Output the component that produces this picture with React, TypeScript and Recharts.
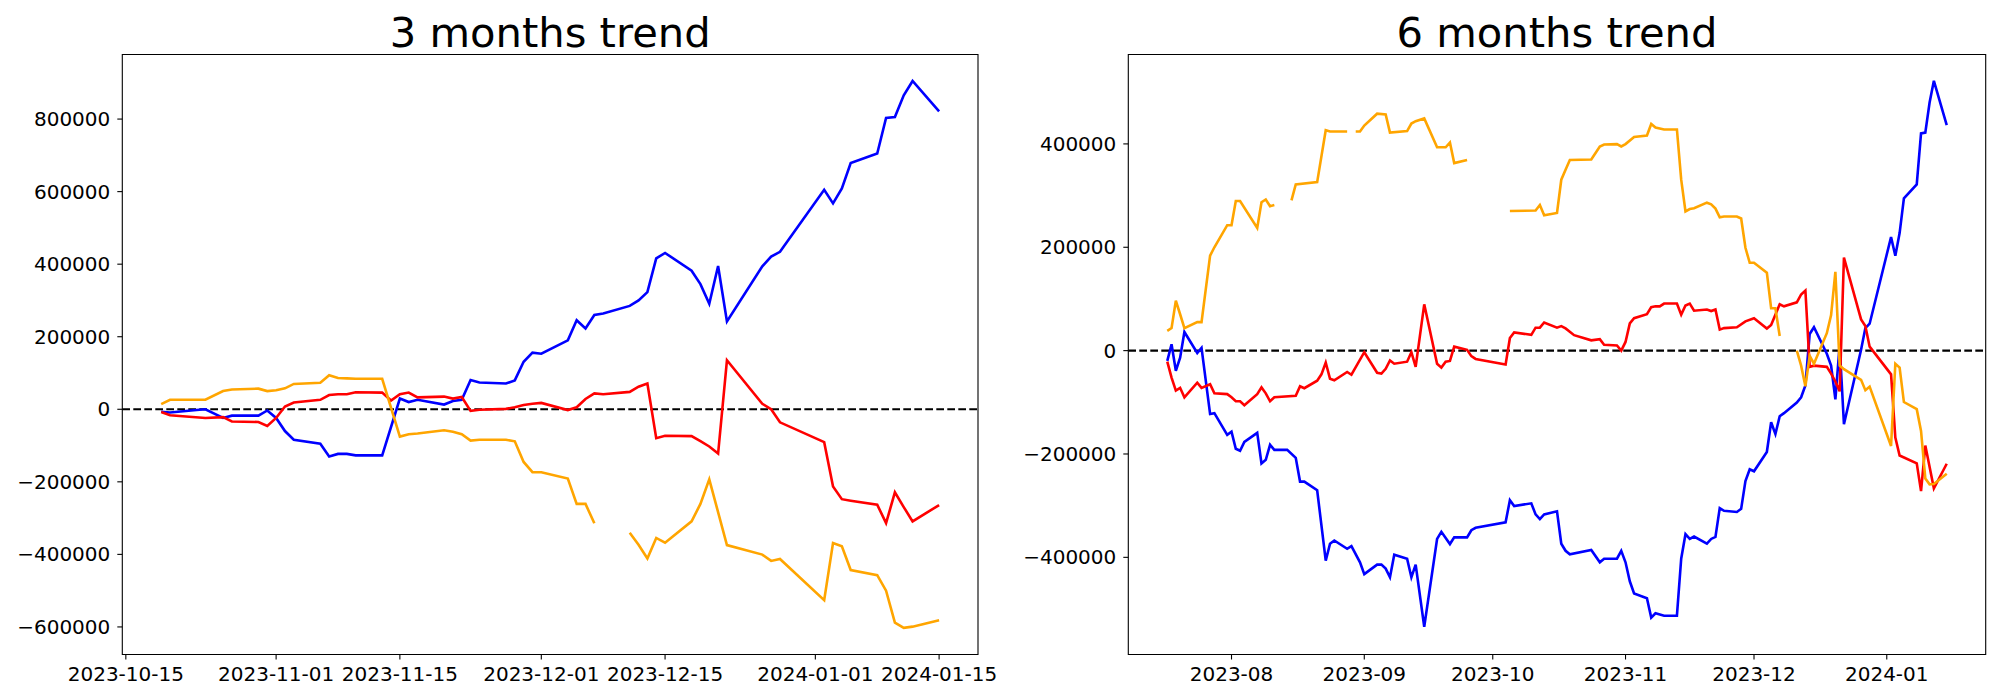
import React from "react";
import { LineChart, Line, XAxis, YAxis, ReferenceLine, ReferenceArea } from "recharts";

type Pt = [string, number | null];

// ---------- 3 months ----------
const blue3: Pt[] = [
  ["2023-10-19", -7000], ["2023-10-20", -8700], ["2023-10-23", -2000], ["2023-10-24", 0],
  ["2023-10-26", -24000], ["2023-10-27", -17500], ["2023-10-30", -17500], ["2023-10-31", -3300],
  ["2023-11-01", -24000], ["2023-11-02", -60000], ["2023-11-03", -84000], ["2023-11-06", -95000],
  ["2023-11-07", -130000], ["2023-11-08", -123000], ["2023-11-09", -123000], ["2023-11-10", -127000],
  ["2023-11-13", -127000], ["2023-11-15", 29500], ["2023-11-16", 20000], ["2023-11-17", 26000],
  ["2023-11-20", 13000], ["2023-11-21", 23000], ["2023-11-22", 26000], ["2023-11-23", 80800],
  ["2023-11-24", 74000], ["2023-11-27", 71000], ["2023-11-28", 79700], ["2023-11-29", 131000],
  ["2023-11-30", 156000], ["2023-12-01", 153000], ["2023-12-04", 190000], ["2023-12-05", 245600],
  ["2023-12-06", 222700], ["2023-12-07", 259800], ["2023-12-08", 264000], ["2023-12-11", 285000],
  ["2023-12-12", 300000], ["2023-12-13", 323000], ["2023-12-14", 416000], ["2023-12-15", 431000],
  ["2023-12-18", 382000], ["2023-12-19", 345000], ["2023-12-20", 291000], ["2023-12-21", 395000],
  ["2023-12-22", 242000], ["2023-12-26", 394000], ["2023-12-27", 421000], ["2023-12-28", 434000],
  ["2024-01-02", 605000], ["2024-01-03", 567600], ["2024-01-04", 609000], ["2024-01-05", 679000],
  ["2024-01-08", 705000], ["2024-01-09", 803000], ["2024-01-10", 805500], ["2024-01-11", 865600],
  ["2024-01-12", 905000], ["2024-01-15", 821000],
];
const red3: Pt[] = [
  ["2023-10-19", -7600], ["2023-10-20", -16400], ["2023-10-24", -24000], ["2023-10-26", -21800],
  ["2023-10-27", -33800], ["2023-10-30", -35000], ["2023-10-31", -45800], ["2023-11-01", -24000],
  ["2023-11-02", 7600], ["2023-11-03", 18600], ["2023-11-06", 26000], ["2023-11-07", 39300],
  ["2023-11-08", 41500], ["2023-11-09", 41500], ["2023-11-10", 47000], ["2023-11-13", 46000],
  ["2023-11-14", 24000], ["2023-11-15", 41500], ["2023-11-16", 46000], ["2023-11-17", 32700],
  ["2023-11-20", 35000], ["2023-11-21", 29500], ["2023-11-22", 33800], ["2023-11-23", -4400],
  ["2023-11-24", -1100], ["2023-11-27", 1100], ["2023-11-28", 5500], ["2023-11-29", 12000],
  ["2023-11-30", 15300], ["2023-12-01", 17500], ["2023-12-04", -2200], ["2023-12-05", 5500],
  ["2023-12-06", 28400], ["2023-12-07", 43700], ["2023-12-08", 41500], ["2023-12-11", 48000],
  ["2023-12-12", 62200], ["2023-12-13", 71000], ["2023-12-14", -79700], ["2023-12-15", -73000],
  ["2023-12-18", -74000], ["2023-12-19", -88000], ["2023-12-20", -102600], ["2023-12-21", -122000],
  ["2023-12-22", 135000], ["2023-12-26", 15300], ["2023-12-27", 0], ["2023-12-28", -36000],
  ["2024-01-02", -90600], ["2024-01-03", -212800], ["2024-01-04", -247800], ["2024-01-05", -252000],
  ["2024-01-08", -263000], ["2024-01-09", -314000], ["2024-01-10", -229000], ["2024-01-11", -269600],
  ["2024-01-12", -309000], ["2024-01-15", -264000],
];
const orange3: Pt[] = [
  ["2023-10-19", 14200], ["2023-10-20", 26200], ["2023-10-24", 26200], ["2023-10-26", 50200],
  ["2023-10-27", 54600], ["2023-10-30", 56800], ["2023-10-31", 50200], ["2023-11-01", 52400],
  ["2023-11-02", 57800], ["2023-11-03", 69900], ["2023-11-06", 73100], ["2023-11-07", 93900],
  ["2023-11-08", 86200], ["2023-11-09", 85100], ["2023-11-10", 84000], ["2023-11-13", 84000],
  ["2023-11-15", -75300], ["2023-11-16", -68800], ["2023-11-17", -66600], ["2023-11-20", -57800],
  ["2023-11-21", -62200], ["2023-11-22", -68800], ["2023-11-23", -86200], ["2023-11-24", -84000],
  ["2023-11-27", -84000], ["2023-11-28", -88400], ["2023-11-29", -145200], ["2023-11-30", -173500],
  ["2023-12-01", -173500], ["2023-12-04", -191000], ["2023-12-05", -260900], ["2023-12-06", -260900],
  ["2023-12-07", -314300], ["2023-12-08", null], ["2023-12-11", -340500], ["2023-12-12", -373300],
  ["2023-12-13", -411500], ["2023-12-14", -354700], ["2023-12-15", -367800], ["2023-12-18", -308900],
  ["2023-12-19", -261000], ["2023-12-20", -193200], ["2023-12-22", -374400], ["2023-12-26", -400600],
  ["2023-12-27", -418000], ["2023-12-28", -412600], ["2024-01-02", -526000], ["2024-01-03", -368900],
  ["2024-01-04", -377700], ["2024-01-05", -443100], ["2024-01-08", -457300], ["2024-01-09", -500000],
  ["2024-01-10", -588300], ["2024-01-11", -602500], ["2024-01-12", -599200], ["2024-01-15", -581800],
];

// ---------- 6 months ----------
const blue6: Pt[] = [
  ["2023-07-17", -19900], ["2023-07-18", 12200], ["2023-07-19", -39000], ["2023-07-20", -13800],
  ["2023-07-21", 36000], ["2023-07-24", -4600], ["2023-07-25", 5400], ["2023-07-27", -122500],
  ["2023-07-28", -121000], ["2023-07-31", -163000], ["2023-08-01", -157000], ["2023-08-02", -189800],
  ["2023-08-03", -193700], ["2023-08-04", -176800], ["2023-08-07", -159200], ["2023-08-08", -218200],
  ["2023-08-09", -211300], ["2023-08-10", -182200], ["2023-08-11", -192100], ["2023-08-14", -192100],
  ["2023-08-16", -207500], ["2023-08-17", -253400], ["2023-08-18", -253400], ["2023-08-21", -270200],
  ["2023-08-23", -406500], ["2023-08-24", -373600], ["2023-08-25", -367400], ["2023-08-28", -383500],
  ["2023-08-29", -378200], ["2023-08-31", -409600], ["2023-09-01", -432500], ["2023-09-04", -414100],
  ["2023-09-05", -414100], ["2023-09-06", -421800], ["2023-09-07", -438600], ["2023-09-08", -395000],
  ["2023-09-11", -402600], ["2023-09-12", -438600], ["2023-09-13", -414100], ["2023-09-15", -534300],
  ["2023-09-18", -364400], ["2023-09-19", -350600], ["2023-09-21", -374300], ["2023-09-22", -361300],
  ["2023-09-25", -361300], ["2023-09-26", -347500], ["2023-09-27", -342900], ["2023-10-04", -332200],
  ["2023-10-05", -289400], ["2023-10-06", -300800], ["2023-10-10", -295500], ["2023-10-11", -316900],
  ["2023-10-12", -326100], ["2023-10-13", -316900], ["2023-10-16", -310800], ["2023-10-17", -373600],
  ["2023-10-18", -387300], ["2023-10-19", -394200], ["2023-10-24", -385800], ["2023-10-26", -409600],
  ["2023-10-27", -402600], ["2023-10-30", -402600], ["2023-10-31", -387300], ["2023-11-01", -409600],
  ["2023-11-02", -446300], ["2023-11-03", -470000], ["2023-11-06", -479200], ["2023-11-07", -516700],
  ["2023-11-08", -508300], ["2023-11-10", -512900], ["2023-11-13", -512900], ["2023-11-14", -402600],
  ["2023-11-15", -355200], ["2023-11-16", -364400], ["2023-11-17", -359800], ["2023-11-20", -373600],
  ["2023-11-21", -364400], ["2023-11-22", -360500], ["2023-11-23", -304700], ["2023-11-24", -310000],
  ["2023-11-27", -312300], ["2023-11-28", -306200], ["2023-11-29", -252600], ["2023-11-30", -229700],
  ["2023-12-01", -233500], ["2023-12-04", -196000], ["2023-12-05", -138600], ["2023-12-06", -161500],
  ["2023-12-07", -127100], ["2023-12-08", -121000], ["2023-12-11", -100300], ["2023-12-12", -90300],
  ["2023-12-13", -67400], ["2023-12-14", 32200], ["2023-12-15", 45200], ["2023-12-18", -6100],
  ["2023-12-19", -29100], ["2023-12-20", -94200], ["2023-12-21", 10700], ["2023-12-22", -142400],
  ["2023-12-26", 1500], ["2023-12-27", 43600], ["2023-12-28", 52100], ["2024-01-02", 219700],
  ["2024-01-03", 183700], ["2024-01-04", 227400], ["2024-01-05", 294700], ["2024-01-08", 321500],
  ["2024-01-09", 420300], ["2024-01-10", 421800], ["2024-01-11", 480000], ["2024-01-12", 522100],
  ["2024-01-15", 436300],
];
const red6: Pt[] = [
  ["2023-07-17", -21400], ["2023-07-18", -52100], ["2023-07-19", -77300], ["2023-07-20", -72000],
  ["2023-07-21", -90300], ["2023-07-24", -62000], ["2023-07-25", -72000], ["2023-07-27", -65100],
  ["2023-07-28", -82700], ["2023-07-31", -84200], ["2023-08-01", -90300], ["2023-08-02", -98000],
  ["2023-08-03", -98000], ["2023-08-04", -105600], ["2023-08-07", -84200], ["2023-08-08", -71200],
  ["2023-08-09", -82700], ["2023-08-10", -98000], ["2023-08-11", -90300], ["2023-08-16", -87300],
  ["2023-08-17", -68900], ["2023-08-18", -72700], ["2023-08-21", -58200], ["2023-08-22", -45900],
  ["2023-08-23", -23000], ["2023-08-24", -54400], ["2023-08-25", -57400], ["2023-08-28", -41300],
  ["2023-08-29", -46700], ["2023-09-01", -3100], ["2023-09-04", -42900], ["2023-09-05", -44400],
  ["2023-09-06", -35200], ["2023-09-07", -19100], ["2023-09-08", -25300], ["2023-09-11", -21400],
  ["2023-09-12", -3100], ["2023-09-13", -31400], ["2023-09-15", 89600], ["2023-09-18", -25300],
  ["2023-09-19", -32900], ["2023-09-20", -21400], ["2023-09-21", -19900], ["2023-09-22", 7700],
  ["2023-09-25", 1500], ["2023-09-26", -10700], ["2023-09-27", -16100], ["2023-10-04", -26800],
  ["2023-10-05", 24500], ["2023-10-06", 35200], ["2023-10-10", 30600], ["2023-10-11", 44400],
  ["2023-10-12", 44400], ["2023-10-13", 54400], ["2023-10-16", 44400], ["2023-10-17", 47500],
  ["2023-10-18", 42900], ["2023-10-20", 29900], ["2023-10-24", 19900], ["2023-10-26", 22200],
  ["2023-10-27", 11500], ["2023-10-30", 10000], ["2023-10-31", 0], ["2023-11-01", 16800],
  ["2023-11-02", 52800], ["2023-11-03", 62800], ["2023-11-06", 70400], ["2023-11-07", 84200],
  ["2023-11-08", 85700], ["2023-11-09", 85700], ["2023-11-10", 91100], ["2023-11-13", 91100],
  ["2023-11-14", 69700], ["2023-11-15", 87300], ["2023-11-16", 91100], ["2023-11-17", 77300],
  ["2023-11-20", 79600], ["2023-11-21", 76500], ["2023-11-22", 79600], ["2023-11-23", 40600],
  ["2023-11-24", 43600], ["2023-11-27", 45200], ["2023-11-29", 56600], ["2023-12-01", 62800],
  ["2023-12-04", 42900], ["2023-12-05", 49800], ["2023-12-07", 89600], ["2023-12-08", 85700],
  ["2023-12-11", 93400], ["2023-12-12", 108700], ["2023-12-13", 116400], ["2023-12-14", -31400],
  ["2023-12-15", -29100], ["2023-12-18", -31400], ["2023-12-19", -44400], ["2023-12-20", -59700],
  ["2023-12-21", -78800], ["2023-12-22", 179900], ["2023-12-26", 60500], ["2023-12-27", 47500],
  ["2023-12-28", 7700], ["2024-01-02", -45900], ["2024-01-03", -168400], ["2024-01-04", -202900],
  ["2024-01-08", -218200], ["2024-01-09", -271800], ["2024-01-10", -183700], ["2024-01-12", -266400],
  ["2024-01-15", -218900],
];
const orange6: Pt[] = [
  ["2023-07-17", 38300], ["2023-07-18", 43600], ["2023-07-19", 96500], ["2023-07-20", 70400],
  ["2023-07-21", 43600], ["2023-07-24", 55100], ["2023-07-25", 55100], ["2023-07-27", 183700],
  ["2023-07-28", 200000], ["2023-07-31", 242700], ["2023-08-01", 242700], ["2023-08-02", 289400],
  ["2023-08-03", 289400], ["2023-08-07", 237300], ["2023-08-08", 287100], ["2023-08-09", 292400],
  ["2023-08-10", 279400], ["2023-08-11", 281700], ["2023-08-14", null], ["2023-08-15", 290900],
  ["2023-08-16", 321500], ["2023-08-21", 326100], ["2023-08-23", 426400], ["2023-08-24", 424000],
  ["2023-08-28", 424000], ["2023-08-29", null], ["2023-08-30", 424000], ["2023-08-31", 424000],
  ["2023-09-01", 435600], ["2023-09-04", 458500], ["2023-09-06", 457000], ["2023-09-07", 421800],
  ["2023-09-11", 424900], ["2023-09-12", 439400], ["2023-09-13", 444000], ["2023-09-15", 449300],
  ["2023-09-18", 393500], ["2023-09-20", 393500], ["2023-09-21", 402600], ["2023-09-22", 362800],
  ["2023-09-25", 369000], ["2023-09-26", null], ["2023-10-05", 270200], ["2023-10-11", 271000],
  ["2023-10-12", 281700], ["2023-10-13", 261800], ["2023-10-16", 266400], ["2023-10-17", 330700],
  ["2023-10-18", 349800], ["2023-10-19", 369000], ["2023-10-24", 369700], ["2023-10-26", 395000],
  ["2023-10-27", 398800], ["2023-10-30", 399600], ["2023-10-31", 395000], ["2023-11-01", 399600],
  ["2023-11-03", 413400], ["2023-11-06", 416400], ["2023-11-07", 438600], ["2023-11-08", 431700],
  ["2023-11-10", 427900], ["2023-11-13", 427900], ["2023-11-14", 330700], ["2023-11-15", 269500],
  ["2023-11-16", 274000], ["2023-11-17", 275600], ["2023-11-20", 286300], ["2023-11-21", 283200],
  ["2023-11-22", 274800], ["2023-11-23", 258000], ["2023-11-24", 259500], ["2023-11-27", 259500],
  ["2023-11-28", 255700], ["2023-11-29", 199000], ["2023-11-30", 170000], ["2023-12-01", 170000],
  ["2023-12-04", 150800], ["2023-12-05", 81900], ["2023-12-06", 81900], ["2023-12-07", 28300],
  ["2023-12-08", null], ["2023-12-11", 0], ["2023-12-12", -29100], ["2023-12-13", -68900],
  ["2023-12-14", -10000], ["2023-12-15", -25300], ["2023-12-18", 33700], ["2023-12-19", 68900],
  ["2023-12-20", 152300], ["2023-12-21", -29000], ["2023-12-22", -36000], ["2023-12-26", -56600],
  ["2023-12-27", -76500], ["2023-12-28", -69700], ["2024-01-02", -184500], ["2024-01-03", -25300],
  ["2024-01-04", -32900], ["2024-01-05", -99500], ["2024-01-08", -113300], ["2024-01-09", -155400],
  ["2024-01-10", -247300], ["2024-01-11", -258700], ["2024-01-12", -258000], ["2024-01-15", -238100],
];

// ---------- axes ----------
const titles = ["3 months trend", "6 months trend"];
const yTicks3 = [-600000, -400000, -200000, 0, 200000, 400000, 600000, 800000];
const yTicks6 = [-400000, -200000, 0, 200000, 400000];
const yDomain3: [number, number] = [-676000, 978000];
const yDomain6: [number, number] = [-588000, 573000];
const xTickDates3 = ["2023-10-15", "2023-11-01", "2023-11-15", "2023-12-01", "2023-12-15", "2024-01-01", "2024-01-15"];
const xTickLabels3 = ["2023-10-15", "2023-11-01", "2023-11-15", "2023-12-01", "2023-12-15", "2024-01-01", "2024-01-15"];
const xTickDates6 = ["2023-08-01", "2023-09-01", "2023-10-01", "2023-11-01", "2023-12-01", "2024-01-01"];
const xTickLabels6 = ["2023-08", "2023-09", "2023-10", "2023-11", "2023-12", "2024-01"];

const FONT = "DejaVu Sans";
const ts = (d: string) => Date.parse(d + "T00:00:00Z");
const toRows = (pts: Pt[]) => pts.map(([d, v]) => ({ t: ts(d), v }));
const fmtY = (v: number) => (v < 0 ? "\u2212" + Math.abs(v) : String(v));

function xDomainOf(series: Pt[][]): [number, number] {
  const all = series.flatMap((s) => s.map((p) => ts(p[0])));
  const lo = Math.min(...all);
  const hi = Math.max(...all);
  const pad = (hi - lo) * 0.05;
  return [lo - pad, hi + pad];
}

type PanelProps = {
  left: number;
  yAxisWidth: number;
  rightMargin: number;
  blue: Pt[];
  red: Pt[];
  orange: Pt[];
  yDomain: [number, number];
  yTicks: number[];
  xTickDates: string[];
  xTickLabels: string[];
};

function Panel(p: PanelProps) {
  const xDomain = xDomainOf([p.blue, p.red, p.orange]);
  const xt = p.xTickDates.map(ts);
  const labelOf = (t: number) => {
    const i = xt.indexOf(t);
    return i >= 0 ? p.xTickLabels[i] : "";
  };
  const tickStyle = { fill: "#000", fontSize: 20, fontFamily: FONT };
  const series: [Pt[], string][] = [
    [p.blue, "#0000ff"],
    [p.red, "#ff0000"],
    [p.orange, "#ffa500"],
  ];
  return (
    <div style={{ position: "absolute", left: p.left, top: 0 }}>
      <LineChart width={1000} height={700} margin={{ top: 54.5, right: p.rightMargin, bottom: 0, left: 0 }}>
        <XAxis
          type="number"
          dataKey="t"
          domain={xDomain}
          ticks={xt}
          tickFormatter={labelOf}
          allowDataOverflow
          interval={0}
          height={45.5}
          axisLine={false}
          tickLine={{ stroke: "#000", strokeWidth: 1.1 }}
          tickSize={5}
          tickMargin={7}
          tick={tickStyle}
        />
        <YAxis
          type="number"
          domain={p.yDomain}
          ticks={p.yTicks}
          tickFormatter={fmtY}
          allowDataOverflow
          interval={0}
          width={p.yAxisWidth}
          axisLine={false}
          tickLine={{ stroke: "#000", strokeWidth: 1.1 }}
          tickSize={5}
          tickMargin={7}
          tick={tickStyle}
        />
        <ReferenceLine y={0} stroke="#000" strokeWidth={2.1} strokeDasharray="7.7 3.3" />
        {series.map(([pts, color], i) => (
          <Line
            key={i}
            data={toRows(pts)}
            dataKey="v"
            type="linear"
            stroke={color}
            strokeWidth={2.6}
            dot={false}
            activeDot={false}
            connectNulls={false}
            isAnimationActive={false}
          />
        ))}
        <ReferenceArea
          x1={xDomain[0]}
          x2={xDomain[1]}
          y1={p.yDomain[0]}
          y2={p.yDomain[1]}
          fill="none"
          fillOpacity={0}
          stroke="#000"
          strokeWidth={1.1}
          ifOverflow="visible"
        />
      </LineChart>
    </div>
  );
}

export default function App() {
  return (
    <div style={{ position: "absolute", left: 0, top: 0, width: 2000, height: 700, background: "#fff", overflow: "hidden" }}>
      <Panel
        left={0}
        yAxisWidth={122.3}
        rightMargin={22}
        blue={blue3}
        red={red3}
        orange={orange3}
        yDomain={yDomain3}
        yTicks={yTicks3}
        xTickDates={xTickDates3}
        xTickLabels={xTickLabels3}
      />
      <Panel
        left={1000}
        yAxisWidth={128.3}
        rightMargin={14.3}
        blue={blue6}
        red={red6}
        orange={orange6}
        yDomain={yDomain6}
        yTicks={yTicks6}
        xTickDates={xTickDates6}
        xTickLabels={xTickLabels6}
      />
      <svg width={2000} height={60} style={{ position: "absolute", left: 0, top: 0, pointerEvents: "none" }}>
        <text x={550.2} y={46.5} textAnchor="middle" fontFamily={FONT} fontSize={41.67} fill="#000">
          {titles[0]}
        </text>
        <text x={1557} y={46.5} textAnchor="middle" fontFamily={FONT} fontSize={41.67} fill="#000">
          {titles[1]}
        </text>
      </svg>
    </div>
  );
}
